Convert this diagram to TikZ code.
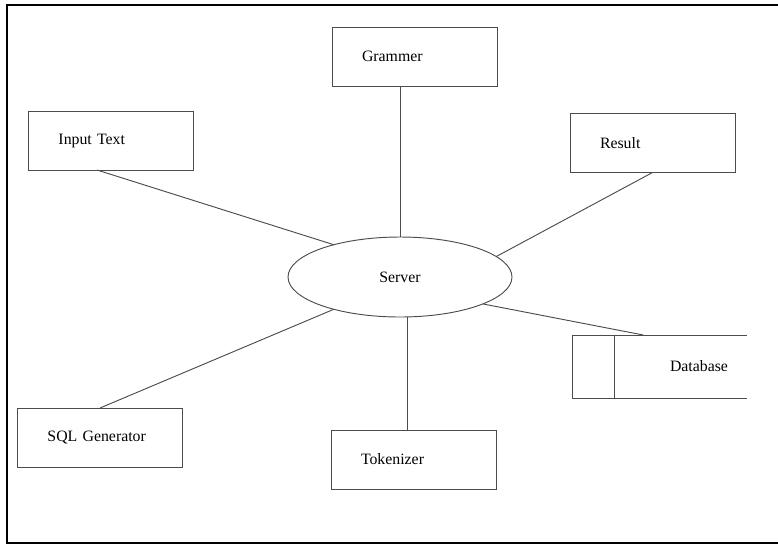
\documentclass[tikz,border=0pt]{standalone}
\usepackage{fontspec}
\setmainfont{Liberation Serif}
\usepackage{tikz}
\usetikzlibrary{shapes.geometric, positioning, calc}

\begin{document}
\begin{tikzpicture}[
  x=0.03cm, y=-0.03cm,
  box/.style={rectangle, draw=black!70, line width=0.8pt, outer sep=0pt, minimum height=1.77cm, text width=3.15cm, inner xsep=0.9cm, align=left, font=\fontsize{13.5}{16}\selectfont},
  hub/.style={ellipse, draw=black!70, line width=0.8pt, outer sep=0pt, inner sep=0pt, minimum width=6.72cm, minimum height=2.4cm, font=\fontsize{13.5}{16}\selectfont},
  dbcell/.style={rectangle, draw=black!70, line width=0.8pt, outer sep=0pt, minimum width=1.26cm, minimum height=1.89cm},
  dbtext/.style={rectangle, outer sep=0pt, minimum height=1.89cm, text width=2.85cm, inner xsep=0.57cm, align=right, font=\fontsize{13.5}{16}\selectfont},
  link/.style={draw=black!70, line width=0.8pt}
]
\useasboundingbox (0,0) rectangle (778,546);

% ── Frame ─────────────────────────────────────────────────────
\draw[line width=1.7pt] (780,5) -- (7,5) -- (7,543) -- (780,543);

% ── Centre ────────────────────────────────────────────────────
\node[hub] (srv) at (400,277) {Server};

% ── Boxes ─────────────────────────────────────────────────────
\node[box] (grm) at (414.5,56.5)  {Grammer};
\node[box] (inp) at (111,140.5)   {Input Text};
\node[box] (res) at (652.5,143)   {Result};
\node[box] (sql) at (100,437.5)   {SQL Generator};
\node[box] (tok) at (413.5,459.5) {Tokenizer};

% ── Database ──────────────────────────────────────────────────
\node[dbcell] (dbk) at (593,366.5) {};
\node[dbtext, anchor=west] (db) at (dbk.east) {Database};
\draw[link] (dbk.north east) -- (db.north east);
\draw[link] (dbk.south east) -- (db.south east);
\coordinate (dbin) at ($(dbk.north east)!0.22!(db.north east)$);

% ── Links ─────────────────────────────────────────────────────
\draw[link] ($(grm.south)+(-14.5,0)$) -- (srv.north);
\draw[link] ($(inp.south)+(-14,0)$)   -- (srv.154);
\draw[link] (res.south)               -- (srv.12);
\draw[link] (sql.north)               -- (srv.206);
\draw[link] ($(tok.north)+(-6.5,0)$)  -- ($(srv.south)+(7,0)$);
\draw[link] (srv.-18)                 -- (dbin);
\end{tikzpicture}
\end{document}
